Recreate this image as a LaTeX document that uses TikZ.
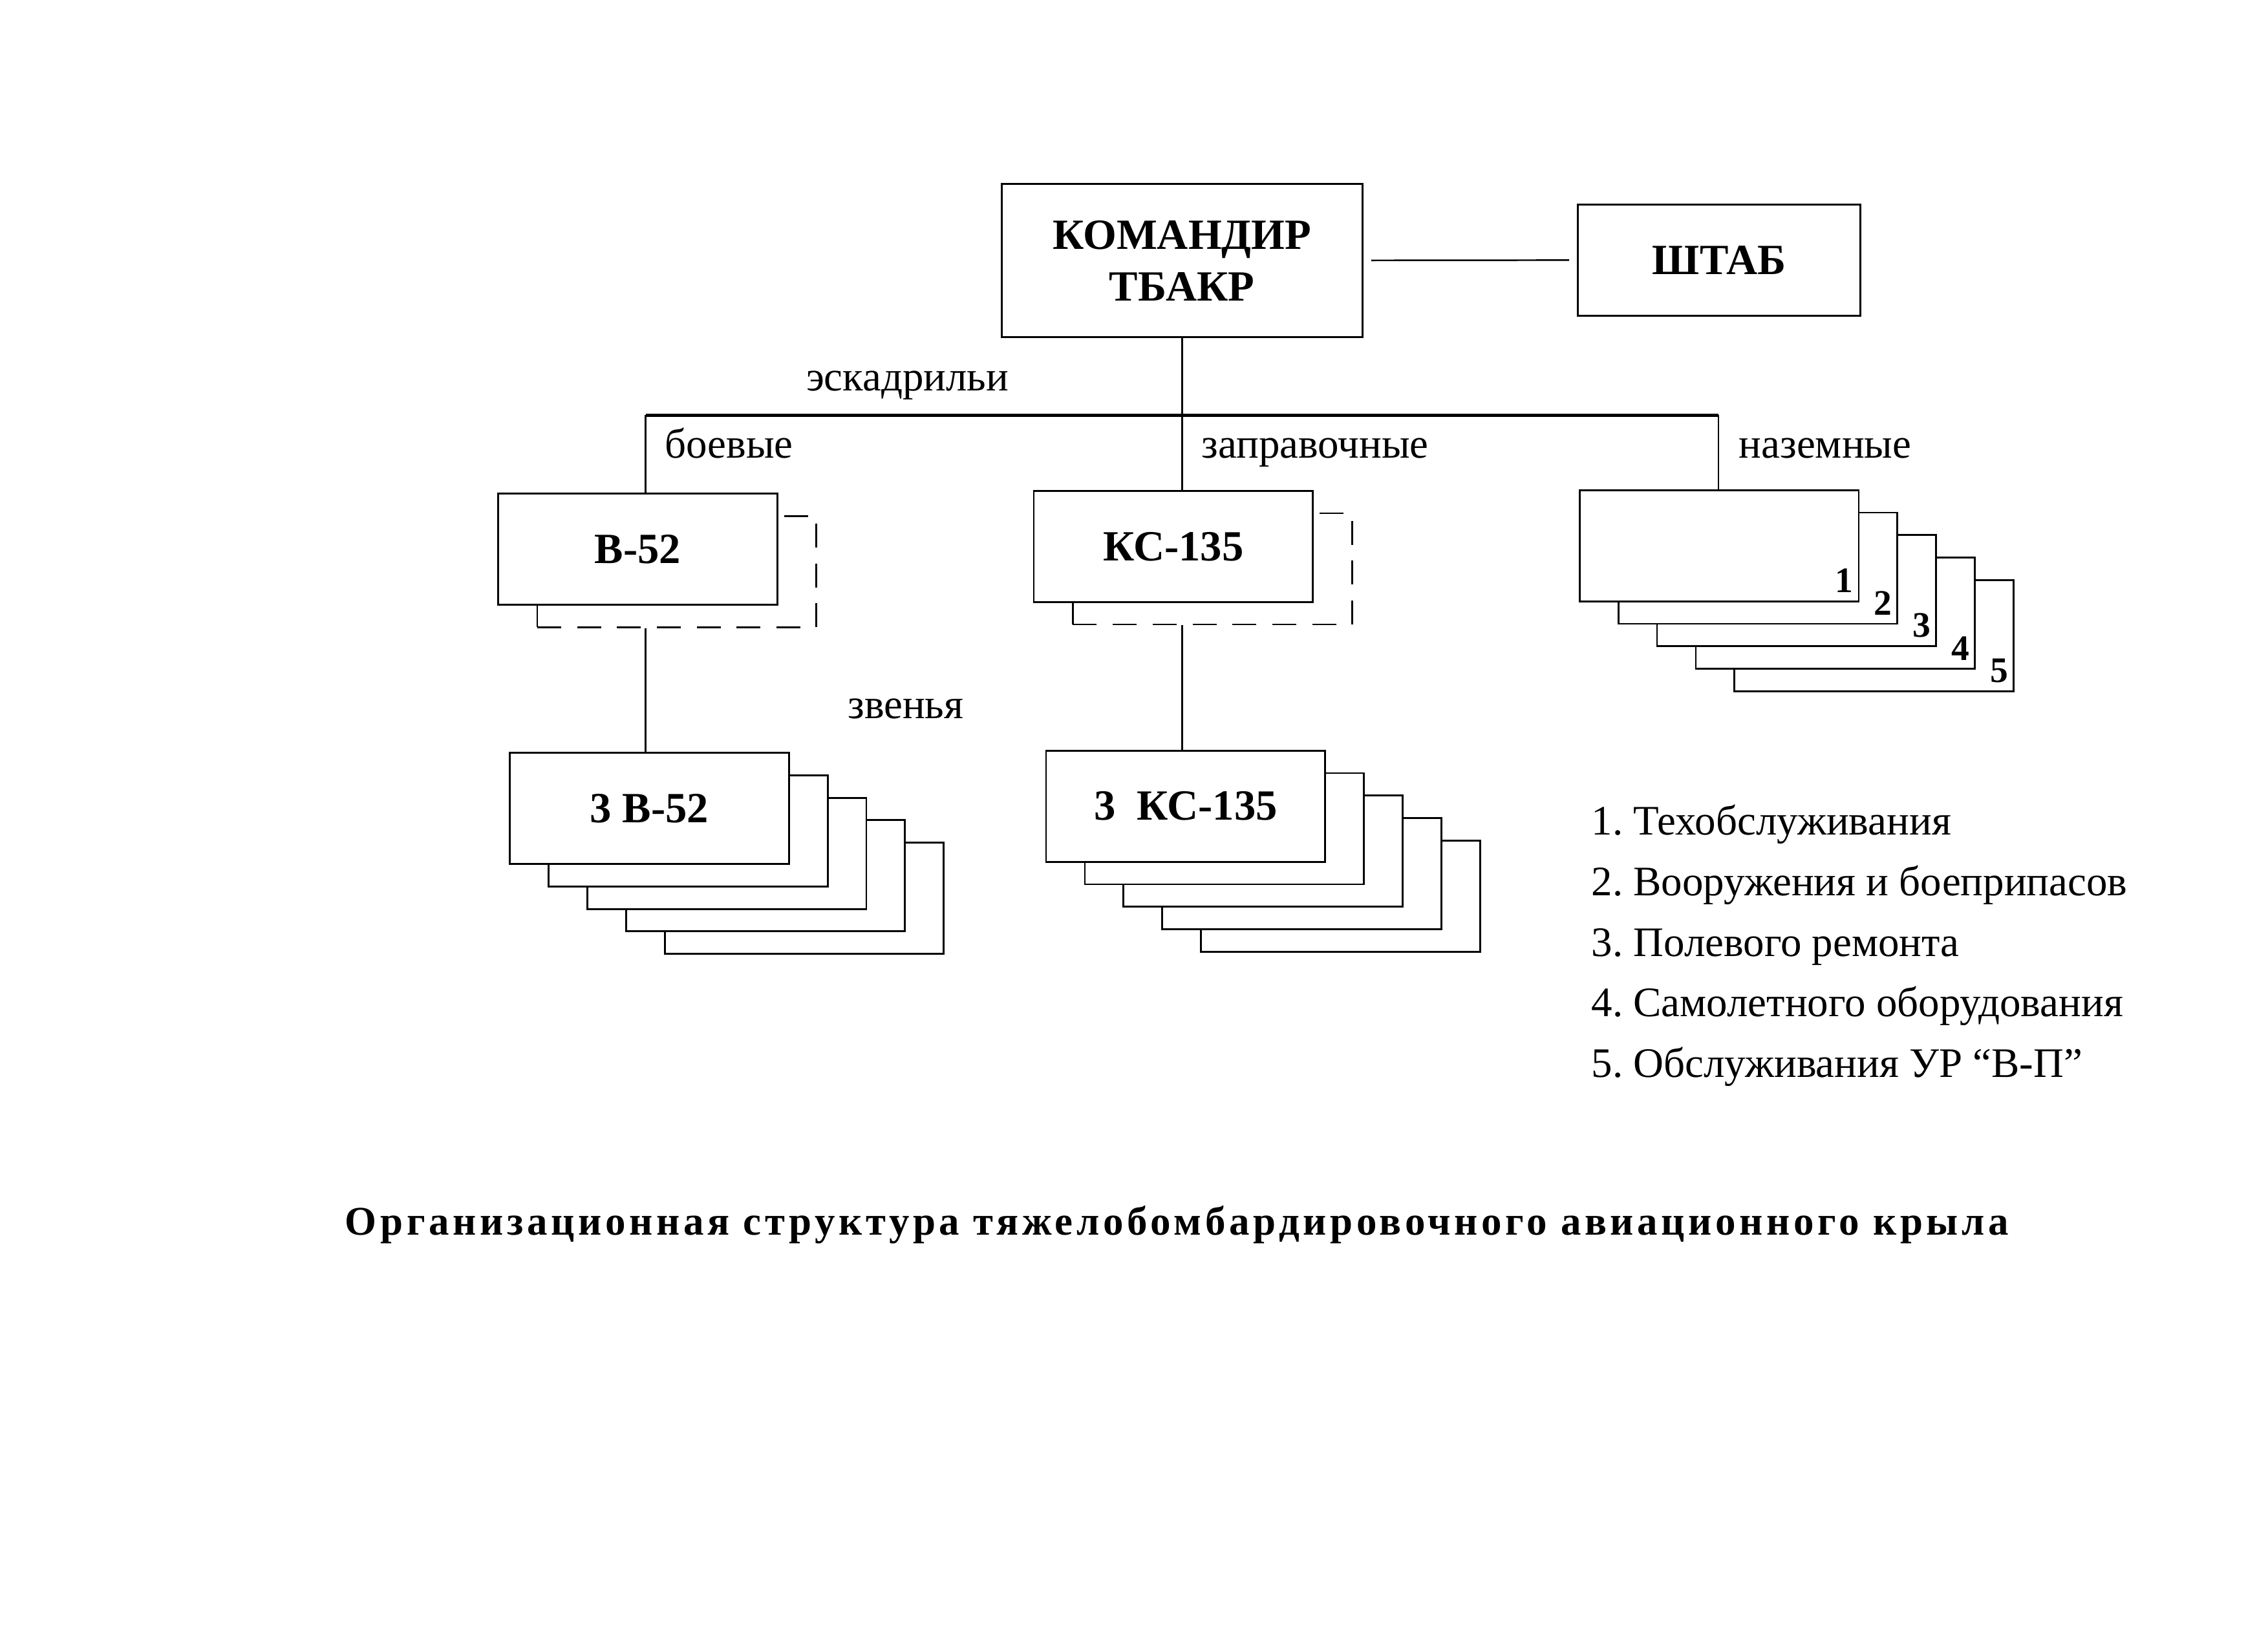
\documentclass[tikz,border=0pt]{standalone}
\usepackage{fontspec}
\setmainfont{Liberation Serif}
\usetikzlibrary{positioning}

\begin{document}
\begin{tikzpicture}
    \tikzset{Unit/.style={%
        shape=rectangle,%
        draw=black,%
        fill=white,%
        line width=0.7pt,%
        minimum width=3.69cm,%
        minimum height=1.47cm,%
        inner sep=0pt,%
        font=\bfseries\fontsize{16.2}{19.5}\selectfont,%
    }}
    \tikzset{Ghost/.style={Unit, dash pattern=on 9pt off 6pt}}
    \tikzset{Label/.style={anchor=base west, inner sep=0pt, font=\fontsize{15.8}{18}\selectfont}}
    \tikzset{Link/.style={line width=0.6pt}}

    \useasboundingbox (0,0) rectangle (29.98,-21.795);

    % command level
    \node[Unit, minimum width=4.77cm, minimum height=2.03cm, align=center] (cmd) at (15.625,-3.445) {КОМАНДИР\\ТБАКР};
    \node[Unit, minimum width=3.73cm] (hq) at (22.725,-3.437) {ШТАБ};
    \draw[Link, shorten <=3pt, shorten >=3pt] (cmd) -- (hq);

    % squadrons bar
    \coordinate (bar1) at (8.535,-5.49);
    \coordinate (bar2) at (cmd.south |- bar1);
    \coordinate (bar3) at (22.715,-5.49);
    \draw[line width=1.2pt] (bar1) -- (bar3);
    \draw[Link] (cmd.south) -- (bar2);

    \node[Ghost] (b52g) at (8.947,-7.557) {};
    \node[Unit] (b52) at (8.43,-7.26) {В-52};
    \node[Ghost] (kcg) at (16.027,-7.521) {};
    \node[Unit] (kc) at (15.51,-7.224) {КС-135};

    % ground squadrons 1..5
    \foreach \i in {5,...,1}{
        \node[Unit, xshift=(\i-1)*0.512cm, yshift=-(\i-1)*0.297cm] (gnd-\i) at (22.725,-7.215) {};
        \node[above left=0.12cm and 0.08cm of gnd-\i.south east, inner sep=0pt,
              font=\bfseries\fontsize{13.5}{13.5}\selectfont] (num-\i) {\i};
    }

    \draw[Link] (bar1) -- (bar1 |- b52.north);
    \draw[Link] (bar2) -- (bar2 |- kc.north);
    \draw[Link] (bar3) -- (bar3 |- gnd-1.north);

    % flights
    \foreach \i in {5,...,2}{
        \node[Unit, xshift=(\i-1)*0.512cm, yshift=-(\i-1)*0.297cm] (zb52-\i) at (8.583,-10.688) {};
        \node[Unit, xshift=(\i-1)*0.512cm, yshift=-(\i-1)*0.297cm] (zkc-\i) at (15.673,-10.659) {};
    }
    \node[Unit] (zb52-1) at (8.583,-10.688) {3 В-52};
    \node[Unit] (zkc-1) at (15.673,-10.659) {3~~КС-135};

    \draw[Link] (bar1 |- b52g.south) -- (bar1 |- zb52-1.north);
    \draw[Link] (bar2 |- kcg.south) -- (bar2 |- zkc-1.north);

    % labels
    \node[Label] (sq) at (10.65,-5.165) {эскадрильи};
    \node[Label] (sq-1) at (8.78,-6.055) {боевые};
    \node[Label] (sq-2) at (15.88,-6.055) {заправочные};
    \node[Label] (sq-3) at (22.98,-6.055) {наземные};
    \node[Label] (fl) at (11.20,-9.50) {звенья};

    % legend
    \node[Label] (leg-1) at (21.03,-11.04) {1.~Техобслуживания};
    \node[Label] (leg-2) at (21.03,-11.84) {2.~Вооружения и боеприпасов};
    \node[Label] (leg-3) at (21.03,-12.64) {3.~Полевого ремонта};
    \node[Label] (leg-4) at (21.03,-13.44) {4.~Самолетного оборудования};
    \node[Label] (leg-5) at (21.03,-14.24) {5.~Обслуживания УР “В-П”};

    \node[anchor=base, inner sep=0pt,
          font=\bfseries\fontsize{15.3}{18}\selectfont\addfontfeature{LetterSpace=9}] (title) at (15.56,-16.325)
          {Организационная структура тяжелобомбардировочного авиационного крыла};
\end{tikzpicture}
\end{document}
